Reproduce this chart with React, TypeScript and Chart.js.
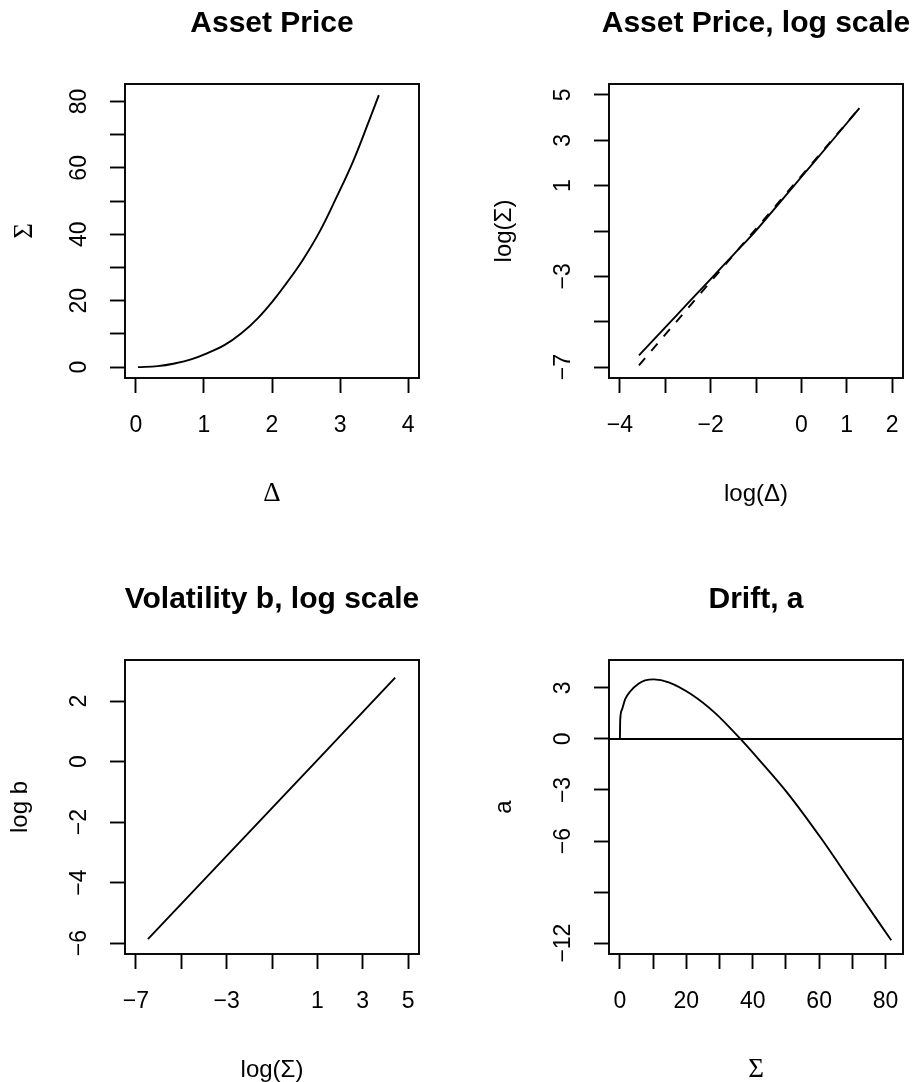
import React, { useEffect, useRef } from 'react';
import { Chart, registerables } from 'chart.js';

Chart.register(...registerables);

// ---------- Panel 1: Asset Price ----------
const ASSET_DELTA = [0.03, 0.32, 0.57, 0.81, 1.06, 1.3, 1.55, 1.79, 2.04, 2.21, 2.45, 2.7, 2.94, 3.19, 3.43, 3.57];
const ASSET_SIGMA = [0.0, 0.3, 1.1, 2.3, 4.3, 6.6, 10.2, 14.7, 20.6, 25.2, 32.2, 40.8, 50.8, 61.9, 74.4, 81.9];
const P1_X_RANGE = [-0.16, 4.16];
const P1_Y_RANGE = [-3.28, 85.25];
const P1_X_TICKS = [0, 1, 2, 3, 4];
const P1_X_LABELS = ['0', '1', '2', '3', '4'];
const P1_Y_TICKS = [0, 10, 20, 30, 40, 50, 60, 70, 80];
const P1_Y_LABELS = ['0', '', '20', '', '40', '', '60', '', '80'];

// ---------- Panel 2: Asset Price, log scale ----------
const LOG_DELTA = [-3.58, -3.0, -2.5, -2.0, -1.5, -1.0, -0.5, 0.0, 0.5, 1.0, 1.28];
const LOG_SIGMA = [-6.48, -5.25, -4.18, -3.12, -2.05, -0.98, 0.2, 1.38, 2.56, 3.75, 4.42];
const LOG_DELTA_REF = [-3.58, 1.28];
const LOG_SIGMA_REF = [-6.92, 4.42];
const P2_X_RANGE = [-4.24, 2.24];
const P2_Y_RANGE = [-7.48, 5.48];
const P2_X_TICKS = [-4, -3, -2, -1, 0, 1, 2];
const P2_X_LABELS = ['\u22124', '', '\u22122', '', '0', '1', '2'];
const P2_Y_TICKS = [-7, -5, -3, -1, 1, 3, 5];
const P2_Y_LABELS = ['\u22127', '', '\u22123', '', '1', '3', '5'];

// ---------- Panel 3: Volatility b, log scale ----------
const VOL_LOG_SIGMA = [-6.47, 1.0, 4.43];
const VOL_LOG_B = [-5.87, 0.05, 2.78];
const P3_X_RANGE = [-7.48, 5.48];
const P3_Y_RANGE = [-6.36, 3.36];
const P3_X_TICKS = [-7, -5, -3, -1, 1, 3, 5];
const P3_X_LABELS = ['\u22127', '', '\u22123', '', '1', '3', '5'];
const P3_Y_TICKS = [-6, -4, -2, 0, 2];
const P3_Y_LABELS = ['\u22126', '\u22124', '\u22122', '0', '2'];

// ---------- Panel 4: Drift, a ----------
const DRIFT_SIGMA = [0, 0.1, 0.6, 1.6, 3.1, 5.6, 7.6, 10.2, 14.7, 21.7, 28.7, 36.3, 41.8, 50.6, 60.7, 70.7, 81.7];
const DRIFT_A = [0, 1.12, 1.71, 2.34, 2.79, 3.24, 3.44, 3.5, 3.33, 2.6, 1.52, 0, -1.2, -3.21, -5.87, -8.72, -11.83];
const DRIFT_ZERO = 0;
const P4_X_RANGE = [-3.28, 85.25];
const P4_Y_RANGE = [-12.64, 4.64];
const P4_X_TICKS = [0, 10, 20, 30, 40, 50, 60, 70, 80];
const P4_X_LABELS = ['0', '', '20', '', '40', '', '60', '', '80'];
const P4_Y_TICKS = [-12, -9, -6, -3, 0, 3];
const P4_Y_LABELS = ['\u221212', '', '\u22126', '\u22123', '0', '3'];

// ---------- styling ----------
const SANS = '"Liberation Sans", Arial, Helvetica, sans-serif';
const SERIF = '"Liberation Serif", "Times New Roman", serif';
const TICK_SIZE = 23;
const LABEL_SIZE = 24;
const SERIF_LABEL_SIZE = 27;
const TITLE_SIZE = 30;
const TICK_LEN = 15;
const LW = 1.9;
const CANVAS_W = 459;
const CANVAS_H = 541;
const X_AXIS_H = 128;
const X_TICK_PAD = 3;
const X_TICK_CENTER = 47.3; // from plot bottom to label centre
const Y_TICK_CENTER = 45; // from plot left to label centre

const toPts = (xs: number[], ys: number[]) => xs.map((x, i) => ({ x, y: ys[i] }));

function measureWidest(labels: string[]) {
  const c = document.createElement('canvas').getContext('2d')!;
  c.font = `${TICK_SIZE}px ${SANS}`;
  return Math.max(...labels.map((l) => (l ? c.measureText(l).width : 0)));
}

type AxisSpec = {
  range: number[];
  ticks: number[];
  labels: string[];
  title: string;
  serif: boolean;
  titlePad: number;
};

type PanelSpec = {
  left: number;
  top: number;
  title: string;
  area: { left: number; right: number; top: number; bottom: number };
  x: AxisSpec;
  y: AxisSpec;
  datasets: any[];
};

const framePlugin = {
  id: 'rFrame',
  afterDraw(chart: any, _args: any, opts: any) {
    const { ctx, chartArea: a } = chart;
    ctx.save();
    ctx.strokeStyle = '#000';
    ctx.lineWidth = LW;
    ctx.strokeRect(a.left, a.top, a.right - a.left, a.bottom - a.top);
    ctx.font = `bold ${TITLE_SIZE}px ${SANS}`;
    ctx.fillStyle = '#000';
    ctx.textAlign = 'center';
    ctx.textBaseline = 'alphabetic';
    ctx.fillText(opts.text, (a.left + a.right) / 2, a.top - 52.5);
    ctx.restore();
  },
};

function makeAxis(a: AxisSpec, isX: boolean, areaLeft: number) {
  const yPad = isX ? X_TICK_PAD : Y_TICK_CENTER - TICK_LEN - measureWidest(a.labels) / 2;
  const xLineHeight = ((X_TICK_CENTER - TICK_LEN - X_TICK_PAD) * 2) / TICK_SIZE;
  const titleSize = a.serif ? SERIF_LABEL_SIZE : LABEL_SIZE;
  return {
    type: 'linear',
    position: isX ? 'bottom' : 'left',
    min: a.range[0],
    max: a.range[1],
    bounds: 'data',
    afterBuildTicks: (s: any) => {
      s.ticks = a.ticks.map((v) => ({ value: v }));
    },
    afterFit: (s: any) => {
      if (isX) s.height = X_AXIS_H;
      else s.width = areaLeft;
    },
    ticks: {
      autoSkip: false,
      minRotation: isX ? 0 : 90,
      maxRotation: isX ? 0 : 90,
      crossAlign: isX ? 'near' : 'center',
      padding: yPad,
      color: '#000',
      font: { family: SANS, size: TICK_SIZE, lineHeight: isX ? xLineHeight : 1.2 },
      callback: (_v: any, i: number) => a.labels[i] ?? '',
    },
    grid: {
      display: true,
      drawOnChartArea: false,
      drawTicks: true,
      tickLength: TICK_LEN,
      tickWidth: LW,
      tickColor: '#000',
      color: '#000',
    },
    border: { display: false },
    title: {
      display: true,
      text: a.title,
      color: '#000',
      font: { family: a.serif ? SERIF : SANS, size: titleSize, lineHeight: 1 },
      padding: isX
        ? { top: 0, bottom: (LABEL_SIZE - titleSize) / 2 }
        : { top: a.titlePad + (LABEL_SIZE - titleSize) / 2, bottom: 0 },
    },
  };
}

function line(xs: number[], ys: number[], extra: any = {}) {
  return {
    data: toPts(xs, ys),
    borderColor: '#000',
    borderWidth: LW,
    pointRadius: 0,
    fill: false,
    tension: 0,
    ...extra,
  };
}

const PANELS: PanelSpec[] = [
  {
    left: 0,
    top: 0,
    title: 'Asset Price',
    area: { left: 125, right: 419, top: 84, bottom: 378 },
    x: { range: P1_X_RANGE, ticks: P1_X_TICKS, labels: P1_X_LABELS, title: '\u0394', serif: true, titlePad: 0 },
    y: { range: P1_Y_RANGE, ticks: P1_Y_TICKS, labels: P1_Y_LABELS, title: '\u03a3', serif: true, titlePad: 13 },
    datasets: [line(ASSET_DELTA, ASSET_SIGMA, { tension: 0.4 })],
  },
  {
    left: 459,
    top: 0,
    title: 'Asset Price, log scale',
    area: { left: 150, right: 444, top: 84, bottom: 378 },
    x: { range: P2_X_RANGE, ticks: P2_X_TICKS, labels: P2_X_LABELS, title: 'log(\u0394)', serif: false, titlePad: 0 },
    y: { range: P2_Y_RANGE, ticks: P2_Y_TICKS, labels: P2_Y_LABELS, title: 'log(\u03a3)', serif: false, titlePad: 33 },
    datasets: [
      line(LOG_DELTA, LOG_SIGMA, { tension: 0.4 }),
      line(LOG_DELTA_REF, LOG_SIGMA_REF, { borderDash: [9.5, 9.5] }),
    ],
  },
  {
    left: 0,
    top: 541,
    title: 'Volatility b, log scale',
    area: { left: 125, right: 419, top: 119, bottom: 413 },
    x: { range: P3_X_RANGE, ticks: P3_X_TICKS, labels: P3_X_LABELS, title: 'log(\u03a3)', serif: false, titlePad: 0 },
    y: { range: P3_Y_RANGE, ticks: P3_Y_TICKS, labels: P3_Y_LABELS, title: 'log b', serif: false, titlePad: 8 },
    datasets: [line(VOL_LOG_SIGMA, VOL_LOG_B)],
  },
  {
    left: 459,
    top: 541,
    title: 'Drift, a',
    area: { left: 150, right: 444, top: 119, bottom: 413 },
    x: { range: P4_X_RANGE, ticks: P4_X_TICKS, labels: P4_X_LABELS, title: '\u03a3', serif: true, titlePad: 0 },
    y: { range: P4_Y_RANGE, ticks: P4_Y_TICKS, labels: P4_Y_LABELS, title: 'a', serif: false, titlePad: 33 },
    datasets: [
      line(DRIFT_SIGMA, DRIFT_A, { cubicInterpolationMode: 'monotone' }),
      line(P4_X_RANGE, [DRIFT_ZERO, DRIFT_ZERO]),
    ],
  },
];

function Panel({ spec }: { spec: PanelSpec }) {
  const ref = useRef<HTMLCanvasElement>(null);
  useEffect(() => {
    const a = spec.area;
    const chart = new Chart(ref.current!, {
      type: 'line',
      data: { datasets: spec.datasets },
      plugins: [framePlugin],
      options: {
        animation: false,
        responsive: false,
        events: [],
        layout: {
          padding: {
            left: 0,
            right: CANVAS_W - a.right,
            top: a.top,
            bottom: CANVAS_H - a.bottom - X_AXIS_H,
          },
        },
        plugins: {
          legend: { display: false },
          tooltip: { enabled: false },
          title: { display: false },
          rFrame: { text: spec.title },
        } as any,
        scales: {
          x: makeAxis(spec.x, true, a.left) as any,
          y: makeAxis(spec.y, false, a.left) as any,
        },
      },
    } as any);
    return () => chart.destroy();
  }, []);
  return (
    <canvas
      ref={ref}
      width={CANVAS_W}
      height={CANVAS_H}
      style={{ position: 'absolute', left: spec.left, top: spec.top, width: CANVAS_W, height: CANVAS_H }}
    />
  );
}

export default function App() {
  return (
    <div style={{ position: 'absolute', left: 0, top: 0, width: 918, height: 1082, background: '#fff' }}>
      {PANELS.map((p, i) => (
        <Panel key={i} spec={p} />
      ))}
    </div>
  );
}
